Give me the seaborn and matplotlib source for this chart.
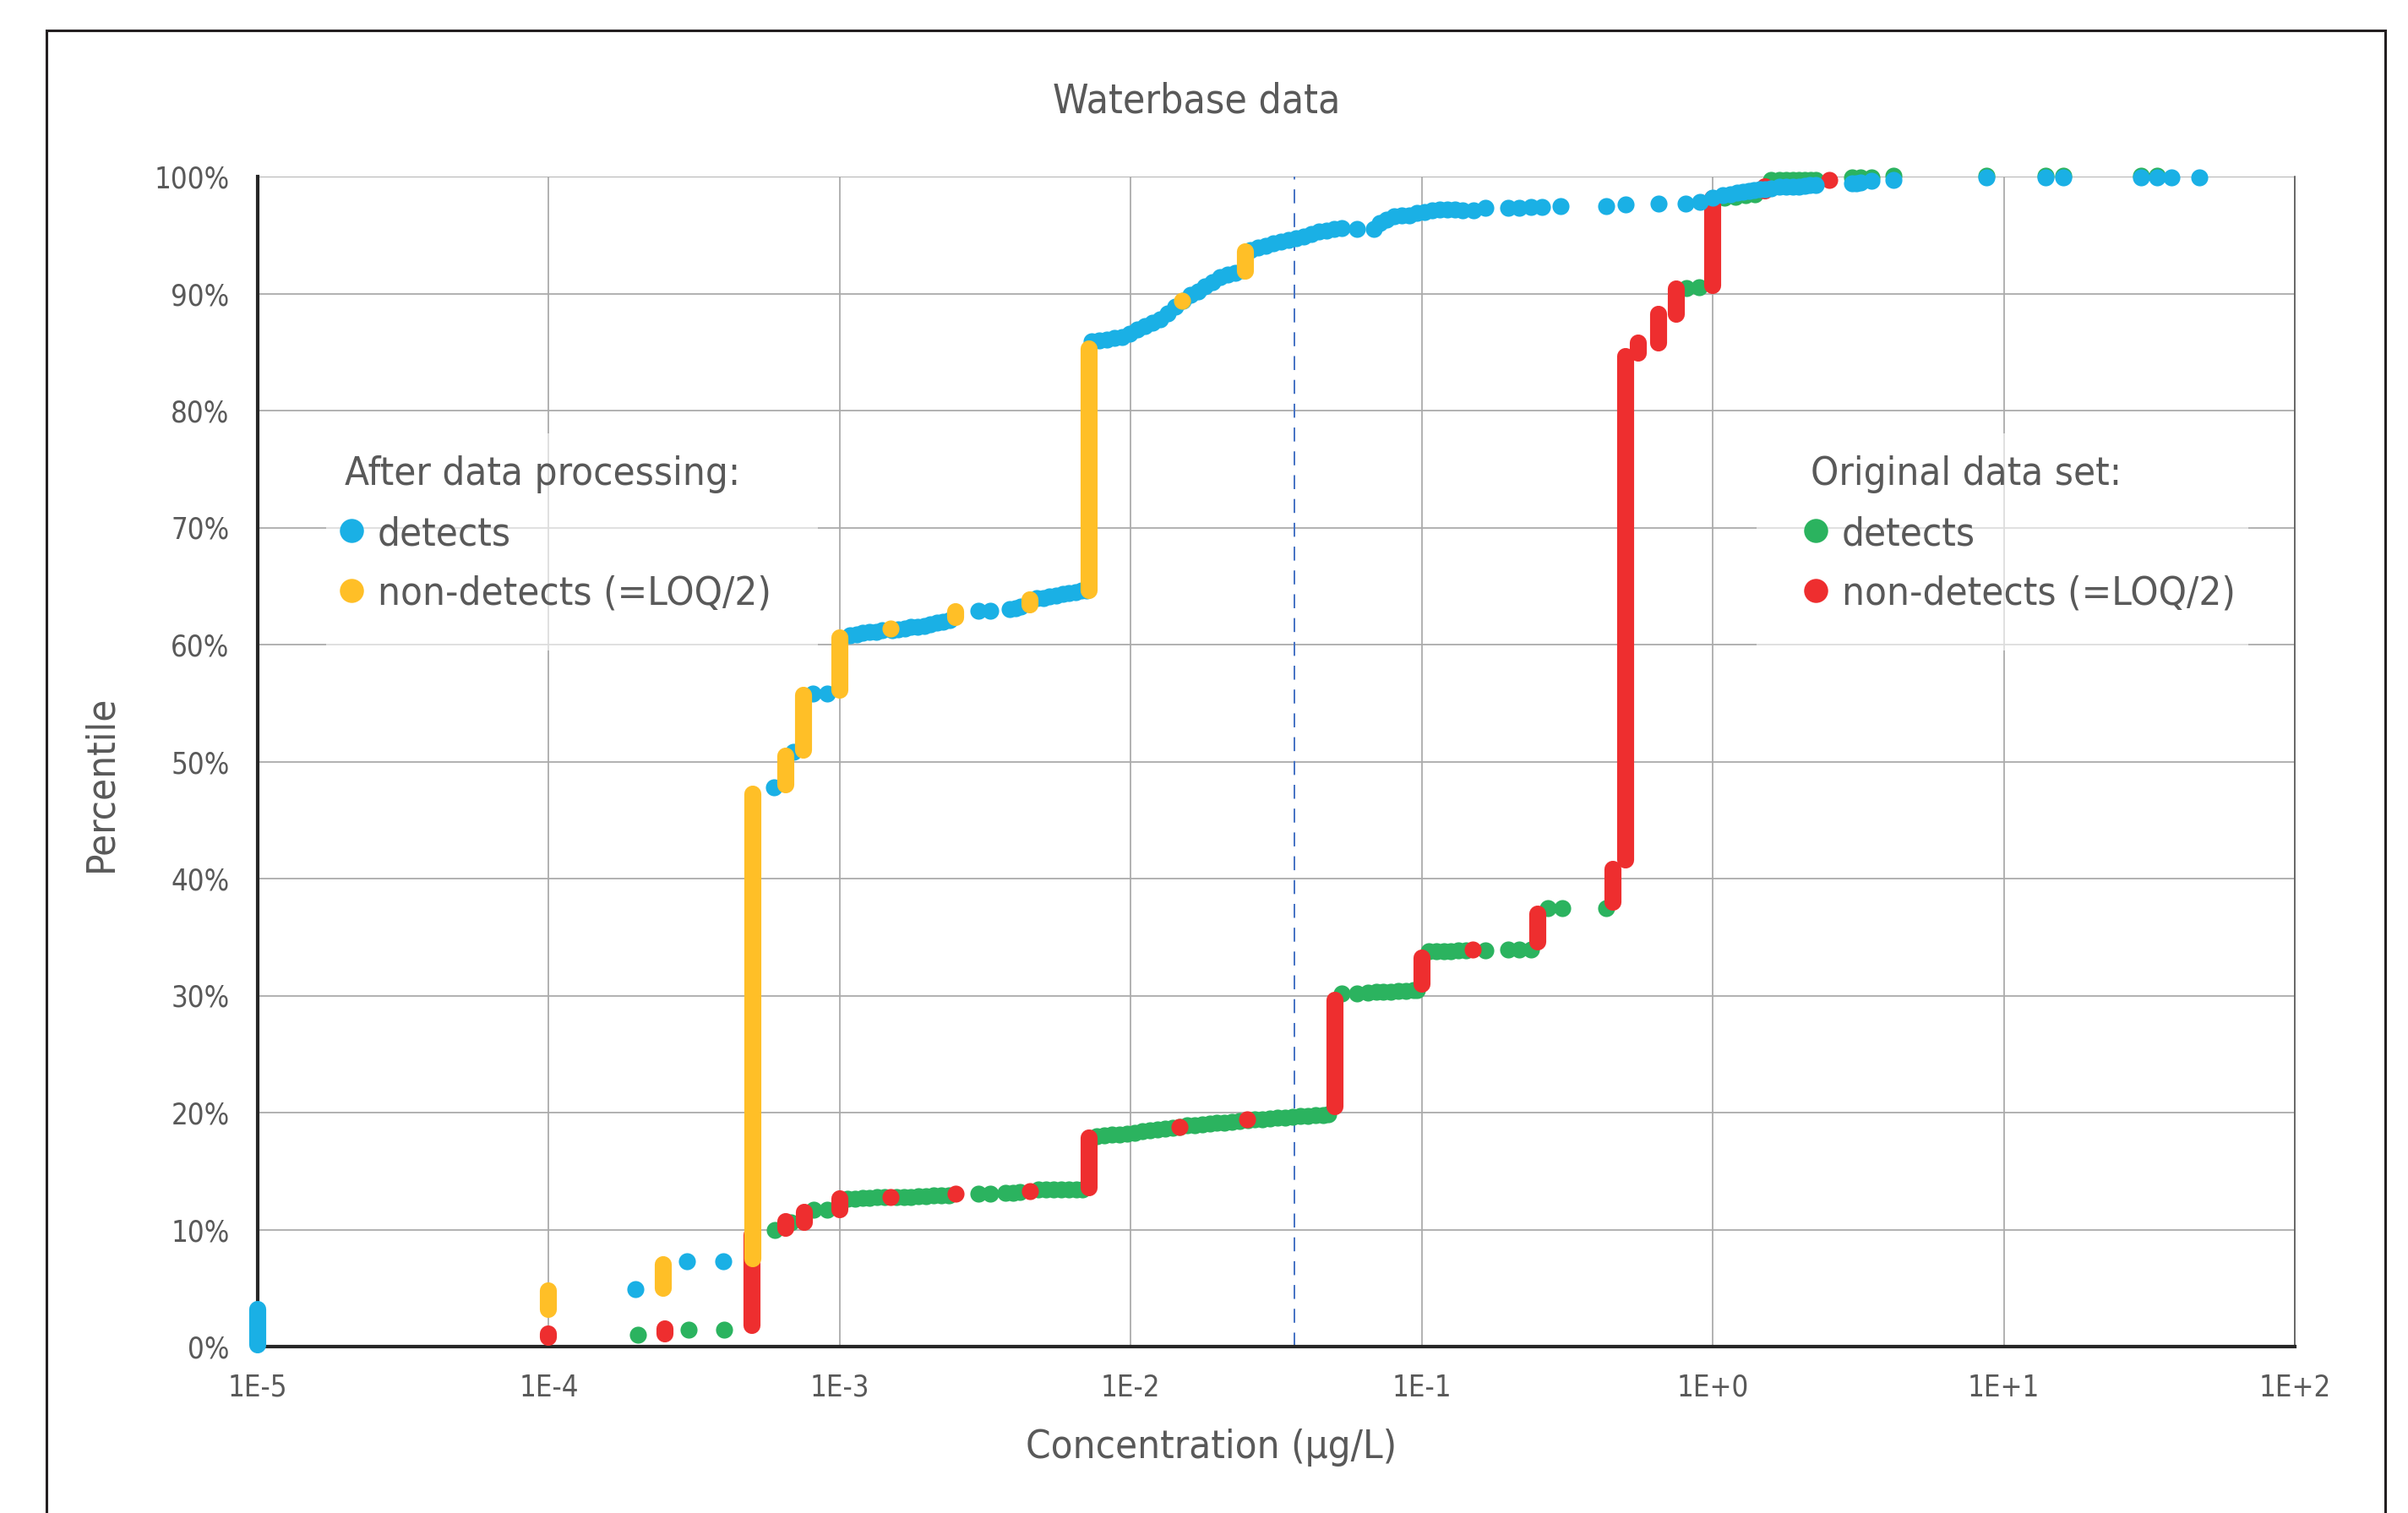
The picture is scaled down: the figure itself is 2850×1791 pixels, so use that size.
import numpy as np
import pandas as pd
import matplotlib
matplotlib.use("Agg")
import matplotlib.pyplot as plt
import seaborn as sns
from matplotlib import font_manager as fm
from matplotlib.patches import Rectangle
from matplotlib.lines import Line2D
from matplotlib.ticker import FixedLocator, FuncFormatter

# ---------------- data ----------------
TITLE = "Waterbase data"
X_LABEL = "Concentration (µg/L)"
Y_LABEL = "Percentile"
X_TICKS = [1e-5, 1e-4, 1e-3, 1e-2, 1e-1, 1e0, 1e1, 1e2]
X_TICK_LABELS = ["1E-5", "1E-4", "1E-3", "1E-2", "1E-1", "1E+0", "1E+1", "1E+2"]
Y_TICKS = [0, 10, 20, 30, 40, 50, 60, 70, 80, 90, 100]
REF_LINE_X = 0.0366

# After data processing: detects (blue)
after_det_x = [1.99e-4, 2.98e-4, 3.98e-4, 5.96e-4, 6.95e-4, 8.1e-4, 9.08e-4,
               1.084e-3, 1.142e-3, 1.20e-3, 1.264e-3, 1.33e-3, 1.40e-3, 1.51e-3, 1.59e-3, 1.67e-3,
               1.76e-3, 1.85e-3, 1.95e-3, 2.05e-3, 2.16e-3, 2.27e-3, 2.39e-3,
               3.0e-3, 3.29e-3, 3.83e-3, 4.03e-3, 4.19e-3,
               4.75e-3, 5.0e-3, 5.26e-3, 5.54e-3, 5.83e-3, 6.13e-3, 6.45e-3, 6.79e-3, 7.05e-3,
               7.34e-3, 7.79e-3, 8.28e-3, 8.79e-3, 9.33e-3, 9.91e-3, 0.01052, 0.01117, 0.01186, 0.01259,
               0.01337, 0.0142, 0.01507, 0.016, 0.01699, 0.01803, 0.01915, 0.02033, 0.02159, 0.02292, 0.02434,
               0.02584, 0.02744, 0.02913, 0.03093, 0.03284, 0.03487, 0.03702, 0.0393, 0.04173, 0.04431,
               0.04705, 0.04995, 0.05304,
               0.0598, 0.0684, 0.0715, 0.0759, 0.0806, 0.0856, 0.0909, 0.0965, 0.1025, 0.1088, 0.1155,
               0.1226, 0.1302, 0.1382, 0.1511, 0.1654, 0.1982, 0.2168, 0.2371, 0.2593, 0.3009, 0.4311, 0.5007,
               0.652, 0.808, 0.903, 1.0, 1.085, 1.15, 1.21, 1.27, 1.33, 1.39, 1.45, 1.51, 1.58, 1.69, 1.79,
               1.89, 1.98, 2.07, 2.16, 2.26, 3.02, 3.12, 3.22, 3.52, 4.17, 8.70, 13.9, 16.0, 29.6, 33.7, 37.7, 46.9]
after_det_y = [4.9, 7.3, 7.3, 47.8, 50.8, 55.8, 55.8,
               60.8, 60.9, 61.0, 61.05, 61.1, 61.2, 61.25, 61.3, 61.4,
               61.5, 61.55, 61.6, 61.75, 61.85, 61.95, 62.1,
               62.9, 62.9, 63.0, 63.1, 63.25,
               63.95, 64.0, 64.1, 64.2, 64.3, 64.4, 64.5, 64.6, 64.6,
               85.9, 86.0, 86.1, 86.2, 86.3, 86.6, 86.9, 87.2, 87.5, 87.8,
               88.3, 88.9, 89.4, 89.9, 90.2, 90.6, 91.0, 91.4, 91.6, 91.8, 92.0,
               93.7, 93.9, 94.1, 94.3, 94.45, 94.6, 94.7, 94.9, 95.1, 95.3,
               95.4, 95.5, 95.6,
               95.5, 95.5, 96.0, 96.3, 96.6, 96.7, 96.65, 96.9, 97.0, 97.1, 97.15,
               97.2, 97.15, 97.1, 97.1, 97.3, 97.3, 97.35, 97.4, 97.4, 97.5, 97.5, 97.65,
               97.7, 97.7, 97.8, 98.2, 98.4, 98.5, 98.6, 98.7, 98.8, 98.85, 98.9, 98.95, 99.0, 99.1, 99.1,
               99.1, 99.15, 99.2, 99.25, 99.3, 99.4, 99.45, 99.5, 99.65, 99.7, 99.9, 99.95, 99.95, 99.95,
               99.95, 99.95, 99.95]
# repeated detects stacked at one concentration (blue run)
after_det_run_x = [1e-5]
after_det_run_lo = [0.15]
after_det_run_hi = [3.2]

# After data processing: non-detects (=LOQ/2) (yellow)
after_nd_x = [1.49e-3, 0.0150]
after_nd_y = [61.4, 89.4]
after_nd_run_x = [1e-4, 2.47e-4, 5.02e-4, 6.52e-4, 7.5e-4, 1.0e-3, 2.5e-3, 4.49e-3, 7.18e-3, 0.0247]
after_nd_run_lo = [3.2, 5.0, 7.5, 48.0, 51.0, 56.1, 62.3, 63.4, 64.6, 91.9]
after_nd_run_hi = [4.8, 7.0, 47.2, 50.5, 55.7, 60.6, 62.8, 63.8, 85.3, 93.6]

# Original data set: detects (green)
orig_det_x = [2.02e-4, 3.02e-4, 4.01e-4, 5.98e-4, 6.8e-4, 8.12e-4, 9.06e-4,
              1.061e-3, 1.126e-3, 1.195e-3, 1.268e-3, 1.346e-3, 1.428e-3, 1.563e-3, 1.66e-3, 1.76e-3,
              1.87e-3, 1.98e-3, 2.10e-3, 2.23e-3, 2.37e-3,
              3.0e-3, 3.28e-3, 3.70e-3, 3.93e-3, 4.16e-3,
              4.83e-3, 5.13e-3, 5.44e-3, 5.77e-3, 6.12e-3, 6.50e-3, 6.80e-3,
              7.66e-3, 8.13e-3, 8.63e-3, 9.16e-3, 9.72e-3, 0.0103, 0.01095, 0.01162, 0.01233, 0.0131,
              0.0139, 0.0147, 0.0156, 0.0166, 0.0176, 0.0187, 0.0198, 0.021, 0.0223, 0.0237, 0.0252,
              0.0267, 0.0284, 0.0301, 0.032, 0.034, 0.036, 0.0383, 0.0406, 0.0431, 0.0458, 0.0478,
              0.0531, 0.0598, 0.0655, 0.0699, 0.0738, 0.0783, 0.0831, 0.0882, 0.0936, 0.0965,
              0.1055, 0.112, 0.119, 0.126, 0.134, 0.142, 0.165, 0.198, 0.216, 0.237,
              0.272, 0.303, 0.431,
              0.814, 0.90,
              1.1, 1.2, 1.3, 1.4, 1.58, 1.69, 1.79, 1.89, 1.98, 2.07, 2.17, 2.26, 3.02, 3.22, 3.52,
              4.17, 8.70, 13.9, 16.0, 29.6, 33.7]
orig_det_y = [1.0, 1.45, 1.45, 10.0, 10.6, 11.7, 11.7,
              12.6, 12.65, 12.7, 12.7, 12.75, 12.75, 12.8, 12.8, 12.8,
              12.85, 12.85, 12.9, 12.9, 12.95,
              13.1, 13.1, 13.15, 13.15, 13.2,
              13.4, 13.4, 13.4, 13.4, 13.4, 13.4, 13.4,
              18.0, 18.05, 18.1, 18.15, 18.2, 18.3, 18.4, 18.5, 18.55, 18.65,
              18.7, 18.8, 18.9, 18.95, 19.0, 19.05, 19.1, 19.15, 19.2, 19.3, 19.35,
              19.4, 19.45, 19.5, 19.55, 19.6, 19.65, 19.7, 19.7, 19.75, 19.8, 19.85,
              30.2, 30.2, 30.25, 30.3, 30.3, 30.35, 30.4, 30.4, 30.45, 30.45,
              33.8, 33.8, 33.8, 33.8, 33.85, 33.85, 33.85, 33.9, 33.9, 33.9,
              37.5, 37.5, 37.5,
              90.5, 90.55,
              98.2, 98.3, 98.4, 98.5, 99.7, 99.7, 99.7, 99.7, 99.7, 99.7, 99.7, 99.7, 99.9, 99.9, 99.9,
              100.1, 100.1, 100.1, 100.1, 100.1, 100.1]

# Original data set: non-detects (=LOQ/2) (red)
orig_nd_x = [1.49e-3, 2.5e-3, 4.49e-3, 0.0147, 0.0251, 0.150, 2.51]
orig_nd_y = [12.8, 13.05, 13.3, 18.8, 19.4, 33.9, 99.7]
orig_nd_run_x = [1e-4, 2.51e-4, 5.0e-4, 6.52e-4, 7.54e-4, 1.0e-3, 7.18e-3, 0.0502, 0.1, 0.251,
                 0.454, 0.502, 0.555, 0.652, 0.748, 1.0, 1.51]
orig_nd_run_lo = [0.8, 1.05, 1.8, 10.1, 10.6, 11.7, 13.6, 20.5, 31.0, 34.6,
                  38.0, 41.6, 84.9, 85.8, 88.2, 90.7, 98.8]
orig_nd_run_hi = [1.1, 1.5, 9.5, 10.7, 11.5, 12.6, 17.8, 29.6, 33.2, 37.0,
                  40.8, 84.6, 85.8, 88.2, 90.4, 98.1, 99.1]

LEGEND_LEFT = ["After data processing:", "detects", "non-detects (=LOQ/2)"]
LEGEND_RIGHT = ["Original data set:", "detects", "non-detects (=LOQ/2)"]

# ---------------- style ----------------
BLUE = "#1AB0E5"
YELLOW = "#FFBF27"
GREEN = "#2BB35F"
RED = "#EE2E2F"
TXT = "#595959"
GRID = "#ABABAB"

sns.set_style("white")
avail = {f.name for f in fm.fontManager.ttflist}
if "Liberation Sans Narrow" in avail:
    FONT = ["Liberation Sans Narrow", "DejaVu Sans"]
    K = 1.0
else:
    FONT = ["DejaVu Sans"]
    plt.rcParams["font.stretch"] = "condensed"
    K = 0.83
plt.rcParams["font.family"] = FONT

W, H = 2850, 1791
fig = plt.figure(figsize=(W / 100, H / 100), dpi=100)
ax = fig.add_axes([305 / W, 1 - 1594 / H, (2716 - 305) / W, (1594 - 209) / H])

MS = 14.5  # marker diameter in points
S = MS ** 2

df_gd = pd.DataFrame({"x": orig_det_x, "y": orig_det_y})
df_rn = pd.DataFrame({"x": orig_nd_x, "y": orig_nd_y})
df_bd = pd.DataFrame({"x": after_det_x, "y": after_det_y})
df_yn = pd.DataFrame({"x": after_nd_x, "y": after_nd_y})

# original data set
sns.scatterplot(data=df_gd, x="x", y="y", color=GREEN, s=S, linewidth=0, ax=ax, zorder=3, clip_on=False)
ax.vlines(orig_nd_run_x, orig_nd_run_lo, orig_nd_run_hi, colors=RED, linewidth=MS,
          capstyle="round", zorder=4, clip_on=False)
sns.scatterplot(data=df_rn, x="x", y="y", color=RED, s=S, linewidth=0, ax=ax, zorder=4, clip_on=False)
# after data processing
sns.scatterplot(data=df_bd, x="x", y="y", color=BLUE, s=S, linewidth=0, ax=ax, zorder=5, clip_on=False)
ax.vlines(after_det_run_x, after_det_run_lo, after_det_run_hi, colors=BLUE, linewidth=MS,
          capstyle="round", zorder=5, clip_on=False)
ax.vlines(after_nd_run_x, after_nd_run_lo, after_nd_run_hi, colors=YELLOW, linewidth=MS,
          capstyle="round", zorder=6, clip_on=False)
sns.scatterplot(data=df_yn, x="x", y="y", color=YELLOW, s=S, linewidth=0, ax=ax, zorder=6, clip_on=False)

# reference line
ax.axvline(REF_LINE_X, ymin=0, ymax=1, color="#4472C4", linewidth=1.4, dashes=(8.5, 6), zorder=2)

ax.set_xscale("log")
ax.set_xlim(X_TICKS[0], X_TICKS[-1])
ax.set_ylim(Y_TICKS[0], Y_TICKS[-1])
ax.xaxis.set_major_locator(FixedLocator(X_TICKS))
ax.xaxis.set_minor_locator(FixedLocator([]))
ax.set_xticklabels(X_TICK_LABELS)
ax.yaxis.set_major_locator(FixedLocator(Y_TICKS))
ax.yaxis.set_major_formatter(FuncFormatter(lambda v, p: f"{int(round(v))}%"))
ax.set_xlabel("")
ax.set_ylabel("")
ax.set_axisbelow(True)
ax.grid(True, color=GRID, linewidth=1.3)
ax.tick_params(axis="both", length=0, labelsize=30 * K, colors=TXT)
ax.tick_params(axis="y", pad=24)
ax.tick_params(axis="x", pad=23)
for lab in ax.get_xticklabels() + ax.get_yticklabels():
    lab.set_color(TXT)

for side in ["left", "bottom"]:
    ax.spines[side].set_color("#262626")
    ax.spines[side].set_linewidth(3.0)
    ax.spines[side].set_zorder(2.6)
ax.spines["top"].set_visible(False)
ax.spines["right"].set_color("#555555")
ax.spines["right"].set_linewidth(1.2)

# translucent boxes behind the text legends
for x0 in (386, 2079):
    ax.add_patch(Rectangle((x0 / W, 1 - 770 / H), 582 / W, 257 / H, transform=fig.transFigure,
                           facecolor="white", alpha=0.6, edgecolor="none", zorder=1.5))

# titles
fig.text(1416 / W, 1 - 120 / H, TITLE, ha="center", va="center", fontsize=41.5 * K, color=TXT)
fig.text(1434 / W, 1 - 1714 / H, X_LABEL, ha="center", va="center", fontsize=41 * K, color=TXT)
fig.text(120 / W, 1 - 927 / H, Y_LABEL, ha="center", va="center", rotation=90, fontsize=41 * K, color=TXT)

# text legends
def text_legend(x_head, x_dot, x_txt, labels, colors):
    fig.text(x_head / W, 1 - 574 / H, labels[0], ha="left", va="baseline", fontsize=41 * K, color=TXT)
    for lab, col, yb, yd in zip(labels[1:], colors, (645, 715), (628, 699)):
        fig.add_artist(Line2D([x_dot / W], [1 - yd / H], marker="o", markersize=20.5, color=col,
                              markeredgewidth=0, linestyle="none", transform=fig.transFigure))
        fig.text(x_txt / W, 1 - yb / H, lab, ha="left", va="baseline", fontsize=41 * K, color=TXT)

text_legend(408, 416, 447, LEGEND_LEFT, [BLUE, YELLOW])
text_legend(2143, 2149, 2180, LEGEND_RIGHT, [GREEN, RED])

# outer frame
fig.add_artist(Rectangle((55 / W, -0.05), (2823 - 55) / W, 1.05 - 36 / H, transform=fig.transFigure,
                         fill=False, edgecolor="#231F20", linewidth=2.2))

fig.savefig("out.png", dpi=100)
